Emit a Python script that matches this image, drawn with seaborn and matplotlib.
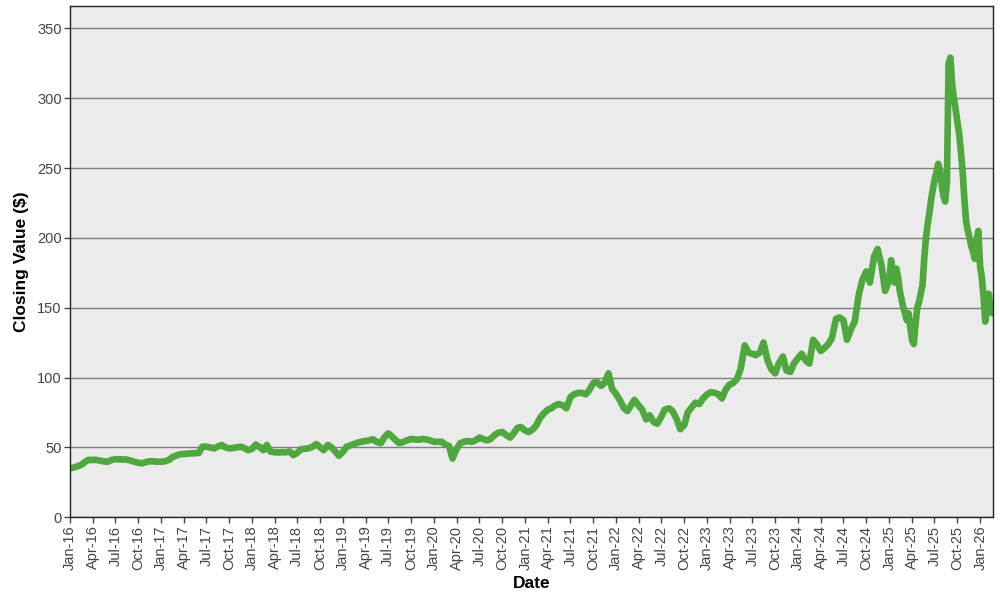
import matplotlib
matplotlib.use("Agg")
import matplotlib.pyplot as plt
import matplotlib.dates as mdates
import seaborn as sns
import pandas as pd
import numpy as np

# semi-monthly closes (1st and 15th)
close_2016 = [35, 35.5, 36.5, 37.5, 39.5, 41, 41, 41, 40.5, 40, 39.7, 41,
              41.5, 41.5, 41.3, 41.3, 40.5, 39.7, 39, 38.5, 39.5, 40, 40, 39.7]
close_2017 = [39.7, 40, 41, 43, 44, 45, 45.2, 45.5, 45.7, 45.8, 46, 50.5,
              50.5, 50, 49.3, 50.5, 51.7, 50, 49.3, 49.5, 50, 50.5, 49.5, 48]
close_2018 = [49, 52, 50, 48, 51.7, 47, 46.5, 46.4, 46.5, 46.5, 47, 44.5,
              46, 48.6, 49, 49.3, 50.5, 52.4, 50, 48, 51.7, 50, 47, 44]
close_2019 = [47, 50.5, 51.5, 52.5, 53.4, 54, 54.6, 55, 55.8, 54, 53, 57,
              60, 58, 55, 53, 54, 55, 56, 55.7, 55.5, 56, 55.7, 55]
close_2020 = [54, 54, 54, 52, 51, 42, 49, 53, 54, 54.5, 54, 55,
              57, 56, 55, 56, 59, 60.5, 61, 59, 57, 60, 64, 64.5]
close_2021 = [62, 61, 63, 66, 71, 74, 77, 78, 80, 81, 80, 78,
              86, 88, 89, 89, 88, 91, 96, 97, 94, 96, 103, 92]
close_2022 = [88, 84, 78, 76, 80, 84, 80, 77, 70, 73, 68, 67,
              72, 77, 78, 76, 70, 63, 66, 75, 79, 82, 81, 85]
close_2023 = [88, 89.5, 89, 88, 85, 91, 95, 96, 99, 106, 123, 118,
              117, 116, 118, 125, 112, 106, 103, 110, 115, 105, 104, 110]
close_2024 = [114, 117, 112, 110, 127, 124, 119, 121, 124, 128, 142, 143,
              141, 127, 135, 140, 160, 170, 176, 168, 187, 192, 180, 162]

# weekly closes from Jan 2025 on (more volatile stretch)
close_weekly_2025_26 = [170, 184, 176, 168, 178, 172, 162, 156, 150, 146,
                        141, 146, 136, 127, 124, 138, 150, 154, 160, 166,
                        185, 200, 210, 218, 228, 235, 242, 247, 253, 248,
                        238, 230, 226, 240, 325, 329, 310, 300, 292, 283,
                        275, 262, 248, 228, 212, 205, 200, 194, 190, 185,
                        198, 205, 180, 172, 158, 140, 150, 160, 148, 146]

semi = (close_2016 + close_2017 + close_2018 + close_2019 + close_2020 +
        close_2021 + close_2022 + close_2023 + close_2024)
semi_dates = pd.date_range("2016-01-01", periods=len(semi), freq="SMS")
week_dates = pd.date_range("2025-01-01", periods=len(close_weekly_2025_26), freq="7D")

df = pd.DataFrame({
    "Date": semi_dates.append(week_dates),
    "Close": semi + close_weekly_2025_26,
})

sns.set_theme(style="white")
plt.rcParams["font.family"] = ["Liberation Sans", "DejaVu Sans"]

fig, ax = plt.subplots(figsize=(10, 6), dpi=100)
fig.subplots_adjust(left=0.07, right=0.993, top=0.99, bottom=0.138)
ax.set_facecolor("#EBEBEB")

sns.lineplot(data=df, x="Date", y="Close", color="#4FA83D", linewidth=4.8, ax=ax)

ax.set_ylim(0, 366)
ax.set_yticks(np.arange(0, 351, 50))
ax.set_xlim(pd.Timestamp("2016-01-01"), pd.Timestamp("2026-02-21"))
ax.xaxis.set_major_locator(mdates.MonthLocator(bymonth=[1, 4, 7, 10]))
ax.xaxis.set_major_formatter(mdates.DateFormatter("%b-%y"))

ax.yaxis.grid(True, color="#7F7F7F", linewidth=1)
ax.xaxis.grid(False)
ax.set_axisbelow(True)
for s in ax.spines.values():
    s.set_color("#222222")
    s.set_linewidth(1)

ax.tick_params(axis="x", rotation=90, labelsize=10.5, colors="#444444",
               length=4, width=1, direction="out", bottom=True, pad=2)
ax.tick_params(axis="y", labelsize=10.5, colors="#444444",
               length=4, width=1, direction="out", left=True, pad=2)

ax.set_xlabel("Date", fontsize=12.5, fontweight="bold", color="black", labelpad=4)
ax.set_ylabel("Closing Value ($)", fontsize=12.5, fontweight="bold", color="black", labelpad=6)

plt.savefig("out.png", dpi=100)
